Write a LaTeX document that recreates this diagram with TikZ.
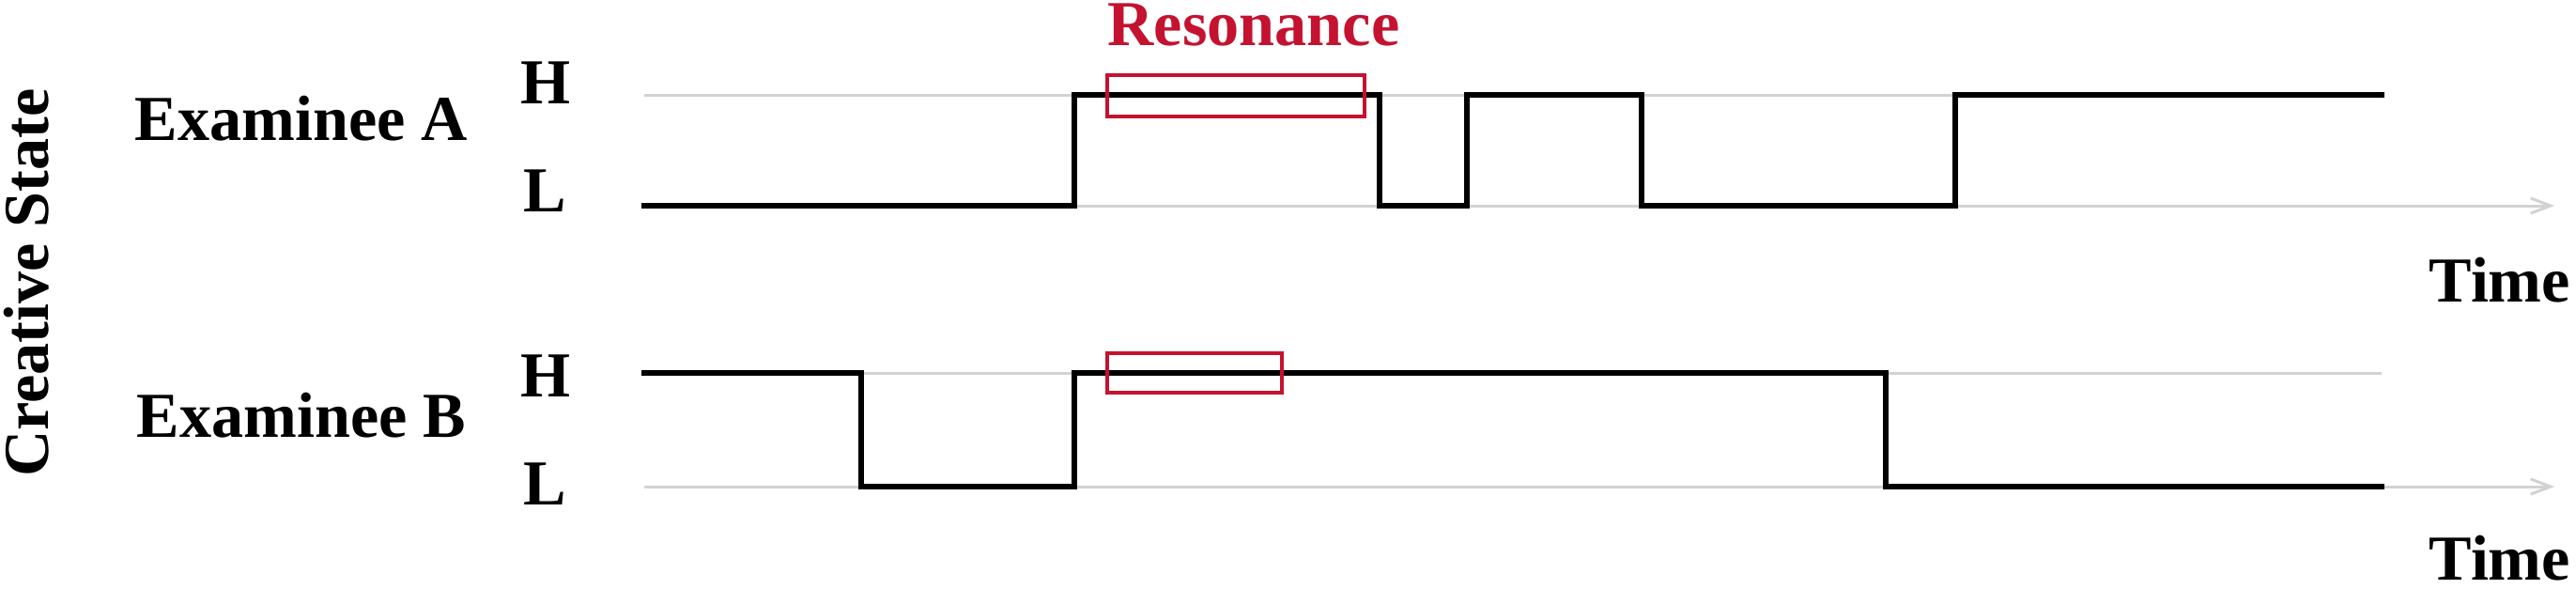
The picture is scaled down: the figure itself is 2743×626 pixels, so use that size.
\documentclass[tikz,border=0pt]{standalone}
\usepackage{fontspec}
\setmainfont{Liberation Serif}
\usetikzlibrary{arrows.meta}
\definecolor{resred}{RGB}{196,18,48}
\definecolor{axisgray}{RGB}{210,210,210}
\begin{document}
\begin{tikzpicture}[x=0.01cm,y=-0.01cm,
  lbl/.style={inner sep=0pt,font=\fontsize{19.4pt}{22pt}\selectfont\bfseries},
  axis/.style={draw=axisgray,line width=0.85pt},
  axisarrow/.style={axis,-{Straight Barb[length=6pt,width=4.6pt,line width=0.85pt]}},
  signal/.style={draw=black,line width=1.45pt,line join=miter,line cap=rect},
  resbox/.style={draw=resred,line width=1.2pt}]
\useasboundingbox (0,0) rectangle (2743,626);
% axes
\draw[axis] (686,101) -- (2536,101);
\draw[axisarrow] (686,219) -- (2720,219);
\draw[axis] (686,397) -- (2536,397);
\draw[axisarrow] (686,518) -- (2720,518);
% signals
\draw[signal] (686,219) -- (1144,219) -- (1144,101) -- (1469,101) -- (1469,219)
  -- (1562,219) -- (1562,101) -- (1748,101) -- (1748,219) -- (2082,219)
  -- (2082,101) -- (2536,101);
\draw[signal] (686,397) -- (917,397) -- (917,518) -- (1144,518) -- (1144,397)
  -- (2008,397) -- (2008,518) -- (2536,518);
% resonance boxes
\draw[resbox] (1179,80) rectangle (1453,124);
\draw[resbox] (1179,376) rectangle (1365,418);
% labels
\node[lbl,text=resred,anchor=base west] (res) at (1179,48) {Resonance};
\node[lbl,anchor=base west] (exa) at (143,149) {Examinee A};
\node[lbl,anchor=base west] (exb) at (145,465) {Examinee B};
\node[lbl,anchor=base] (ha) at (581,110) {H};
\node[lbl,anchor=base] (la) at (580,225) {L};
\node[lbl,anchor=base] (hb) at (581,422) {H};
\node[lbl,anchor=base] (lb) at (580,537) {L};
\node[lbl,anchor=base west] (ta) at (2586,321) {Time};
\node[lbl,anchor=base west] (tb) at (2586,617) {Time};
\node[lbl,rotate=90,anchor=center] (cs) at (28,301) {Creative State};
\end{tikzpicture}
\end{document}
